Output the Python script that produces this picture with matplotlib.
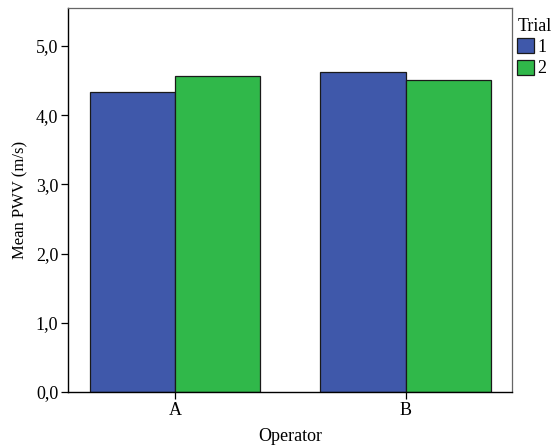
import numpy as np
import matplotlib
matplotlib.use('Agg')
import matplotlib.pyplot as plt

# Données
operators = ['A', 'B']
trial_1 = [4.34, 4.62]
trial_2 = [4.57, 4.51]
y_ticks = [0, 1, 2, 3, 4, 5]
y_tick_labels = ['0,0', '1,0', '2,0', '3,0', '4,0', '5,0']

plt.rcParams['font.family'] = ['Liberation Serif', 'DejaVu Serif']

fig = plt.figure(figsize=(5.55, 4.48), dpi=100)
ax = fig.add_axes([68 / 555, 56 / 448, 444 / 555, 384 / 448])

x = np.arange(len(operators))
width = 0.37
ax.bar(x - width / 2, trial_1, width, color='#3f58aa', edgecolor='#1a1a1a', linewidth=0.9, label='1')
ax.bar(x + width / 2, trial_2, width, color='#30b84a', edgecolor='#1a1a1a', linewidth=0.9, label='2')

ax.set_xlim(-0.465, 1.461)
ax.set_ylim(0, 5.55)
ax.set_xticks(x)
ax.set_xticklabels(operators, fontsize=13)
ax.set_yticks(y_ticks)
ax.set_yticklabels(y_tick_labels, fontsize=13)
ax.tick_params(axis='both', direction='out', length=5, width=0.9, pad=2)
ax.set_xlabel('Operator', fontsize=13, labelpad=7)
ax.set_ylabel('Mean PWV (m/s)', fontsize=12, labelpad=5)

for side in ['left', 'bottom']:
    ax.spines[side].set_color('black')
    ax.spines[side].set_linewidth(1.0)
for side in ['top', 'right']:
    ax.spines[side].set_color('#666666')
    ax.spines[side].set_linewidth(0.9)

leg = ax.legend(loc='upper left', bbox_to_anchor=(1.012, 0.975), frameon=False,
                title='Trial', fontsize=13, title_fontsize=13,
                handlelength=0.95, handleheight=0.9, handletextpad=0.15,
                labelspacing=0.2, borderpad=0.0, borderaxespad=0.0,
                alignment='left')

plt.savefig('out.png', dpi=100)
